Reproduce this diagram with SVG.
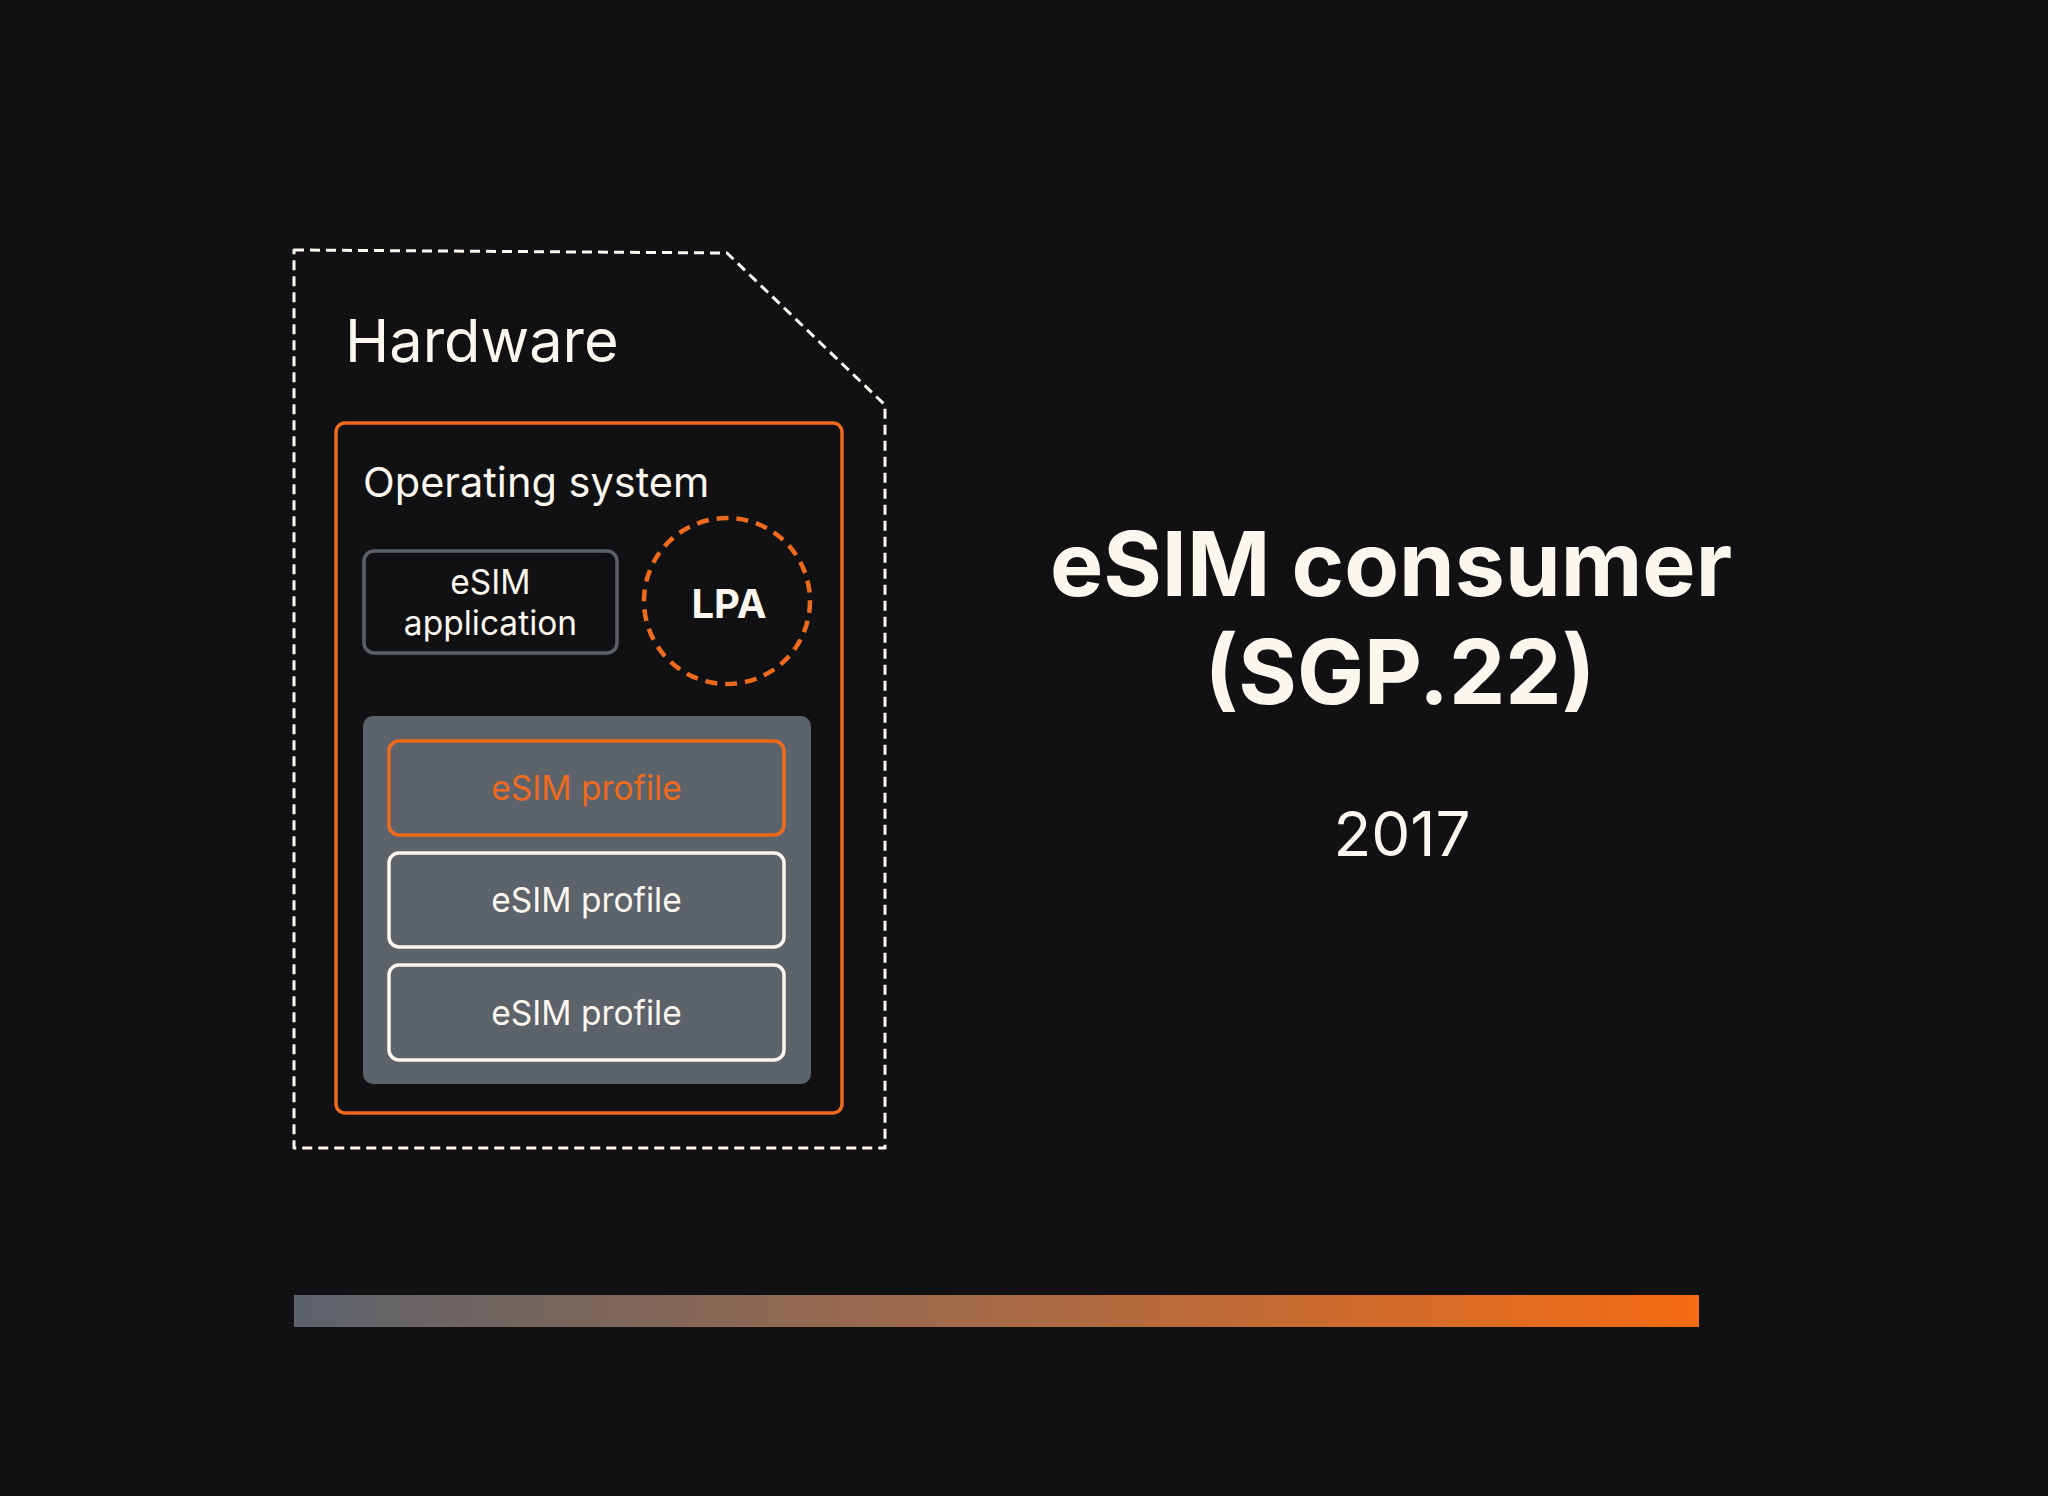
<svg xmlns="http://www.w3.org/2000/svg" width="2048" height="1496" viewBox="0 0 2048 1496">
  <defs>
    <linearGradient id="bar" x1="0" y1="0" x2="1" y2="0">
      <stop offset="0" stop-color="#5c636b"/>
      <stop offset="0.5" stop-color="#a56a48"/>
      <stop offset="1" stop-color="#f56c14"/>
    </linearGradient>
    <style>
      .txt { font-family: "Inter", "Liberation Sans", sans-serif; fill: #fbf6ee; }
      .hw { fill: none; stroke: #fbf6ee; stroke-width: 3; stroke-dasharray: 10 6; stroke-linejoin: round; }
      .os { fill: none; stroke: #ee6a1d; stroke-width: 3.5; }
      .app { fill: none; stroke: #5a6068; stroke-width: 3.5; }
      .lpa { fill: none; stroke: #ee6a1d; stroke-width: 4.5; stroke-dasharray: 12 8; }
      .tray { fill: #5c636b; }
      .prof { fill: #5c636b; stroke: #fbf6ee; stroke-width: 3.5; }
      .prof-act { fill: #5c636b; stroke: #ee6a1d; stroke-width: 3.5; }
    </style>
  </defs>
  <rect width="2048" height="1496" fill="#111113"/>

  <g id="hardware">
    <path class="hw" d="M294 250 L727 253 L885 405 L885 1148 L294 1148 Z"/>
    <text class="txt" x="345" y="362" font-size="59.5">Hardware</text>
  </g>

  <g id="operating-system">
    <rect class="os" x="336" y="423" width="506" height="690" rx="9"/>
    <text class="txt" x="363" y="497" font-size="41.5">Operating system</text>
  </g>

  <g id="esim-application">
    <rect class="app" x="364" y="551" width="253" height="102" rx="10"/>
    <text class="txt" x="490.5" y="594" font-size="33.5" text-anchor="middle">eSIM</text>
    <text class="txt" x="490.5" y="635" font-size="33.5" text-anchor="middle">application</text>
  </g>

  <g id="lpa">
    <circle class="lpa" cx="727" cy="601" r="83"/>
    <text class="txt" x="729" y="618" font-size="40" font-weight="700" text-anchor="middle">LPA</text>
  </g>

  <g id="profile-tray">
    <rect class="tray" x="363" y="716" width="448" height="368" rx="10"/>
  </g>

  <g id="profile-1">
    <rect class="prof-act" x="389" y="741" width="395" height="94" rx="10"/>
    <text class="txt" x="586.5" y="800" font-size="33.5" text-anchor="middle" style="fill:#ee6a1d">eSIM profile</text>
  </g>
  <g id="profile-2">
    <rect class="prof" x="389" y="853" width="395" height="94" rx="10"/>
    <text class="txt" x="586.5" y="912" font-size="33.5" text-anchor="middle">eSIM profile</text>
  </g>
  <g id="profile-3">
    <rect class="prof" x="389" y="965" width="395" height="95" rx="10"/>
    <text class="txt" x="586.5" y="1025" font-size="33.5" text-anchor="middle">eSIM profile</text>
  </g>

  <g id="connectors"/>

  <g id="title">
    <text class="txt" x="1391" y="596" font-size="89.5" font-weight="700" text-anchor="middle">eSIM consumer</text>
    <text class="txt" x="1400" y="704" font-size="89.5" font-weight="700" text-anchor="middle">(SGP.22)</text>
    <text class="txt" x="1402" y="856" font-size="62" text-anchor="middle">2017</text>
  </g>

  <g id="timeline-bar">
    <rect x="294" y="1295" width="1405" height="32" fill="url(#bar)"/>
  </g>
</svg>
